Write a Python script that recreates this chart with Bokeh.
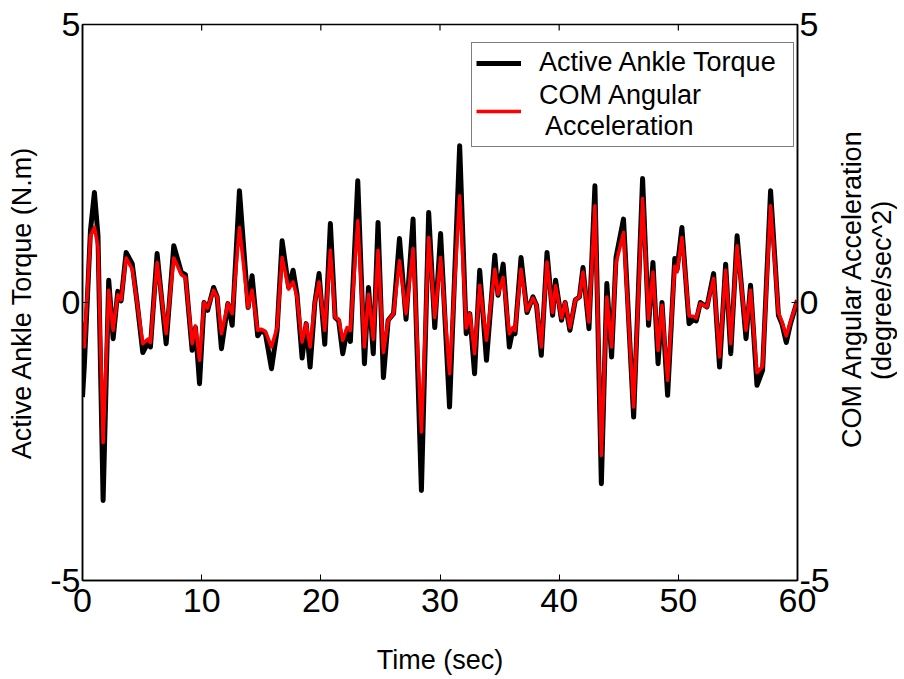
import math
from bokeh.plotting import figure
from bokeh.layouts import row
from bokeh.models import LinearAxis, Range1d, Legend, LegendItem, FixedTicker, Div
from bokeh.embed import file_html
from bokeh.resources import INLINE

time = [0.0, 0.15, 0.67, 1.0, 1.3, 1.73, 2.2, 2.57, 2.96, 3.24, 3.66, 4.17, 4.58, 5.06, 5.5, 5.7,
        6.26, 7.02, 7.66, 8.3, 8.64, 9.2, 9.48, 9.82, 10.2, 10.5, 11.0, 11.3, 11.66, 12.2, 12.56,
        13.17, 13.9, 14.23, 14.7, 15.0, 15.35, 15.86, 16.33, 16.75, 17.3, 17.67, 18.0, 18.43, 18.77,
        19.1, 19.5, 19.85, 20.33, 20.8, 21.2, 21.5, 21.84, 22.2, 22.48, 23.1, 23.66, 24.0, 24.4,
        24.8, 25.25, 25.65, 26.1, 26.6, 27.15, 27.74, 28.44, 29.05, 29.56, 30.05, 30.8, 31.65,
        32.2, 32.5, 32.9, 33.33, 33.9, 34.6, 34.87, 35.3, 35.82, 36.1, 36.3, 36.8, 37.3, 37.8,
        38.1, 38.5, 38.98, 39.45, 39.7, 40.2, 40.5, 40.9, 41.36, 41.7, 42.0, 42.5, 43.0, 43.54,
        44.0, 44.4, 44.77, 45.4, 46.25, 47.0, 47.5, 47.87, 48.3, 48.63, 49.1, 49.7, 49.9, 50.3,
        50.9, 51.3, 51.5, 51.85, 52.4, 52.96, 53.46, 53.97, 54.4, 54.93, 55.68, 56.06, 56.6,
        57.07, 57.74, 58.4, 58.7, 59.06, 59.4, 60.0]

torque = [-1.7, -1.15, 1.3, 1.98, 1.2, -3.56, 0.4, -0.65, 0.2, 0.03, 0.9, 0.7, 0.0, -0.9, -0.72, -0.8,
          0.88, -0.74, 1.02, 0.54, 0.5, -0.86, -0.45, -1.46, 0.0, -0.14, 0.27, 0.1, -0.83, -0.02, -0.41,
          2.01, -0.09, 0.48, -0.6, -0.5, -0.56, -1.19, -0.5, 1.11, 0.27, 0.58, 0.15, -1.0, -0.38,
          -1.16, 0.0, 0.52, -0.75, 1.42, -0.27, -0.33, -0.92, -0.5, -0.7, 2.19, -1.1, 0.27, -0.92,
          1.44, -1.35, -0.32, -0.2, 1.15, -0.3, 1.5, -3.38, 1.62, -0.45, 1.24, -1.88, 2.82,
          -0.56, -0.2, -1.28, 0.58, -1.04, 0.85, 0.13, 0.69, -0.8, -0.5, -0.56, 0.81, -0.18, 0.1,
          -0.05, -0.95, 0.9, -0.23, 0.4, -0.32, 0.0, -0.5, 0.05, 0.1, 0.63, -0.47, 2.1, -3.26,
          0.34, -0.98, 0.81, 1.5, -2.06, 2.23, -0.41, 0.72, -1.1, 0.0, -1.67, 0.79, 0.6, 1.35,
          -0.38, -0.3, -0.33, 0.0, -0.08, 0.52, -1.16, 0.69, -0.92, 1.2, -0.65, 0.31, -1.49,
          -1.22, 2.01, -0.23, -0.39, -0.72, -0.39, 0.04]

com_acc = [-0.35, -0.8, 1.2, 1.35, 1.0, -2.52, 0.22, -0.5, 0.14, 0.05, 0.8, 0.6, 0.0, -0.74, -0.66, -0.72,
           0.72, -0.56, 0.8, 0.5, 0.45, -0.74, -0.42, -1.04, 0.0, -0.1, 0.22, 0.1, -0.56, -0.02, -0.2,
           1.35, -0.09, 0.22, -0.5, -0.48, -0.52, -0.8, -0.45, 0.81, 0.24, 0.37, 0.1, -0.71, -0.38,
           -0.8, 0.0, 0.37, -0.5, 0.94, -0.27, -0.3, -0.68, -0.45, -0.5, 1.47, -0.8, 0.15, -0.66,
           0.94, -0.9, -0.32, -0.2, 0.75, -0.2, 0.97, -2.33, 1.17, -0.27, 0.81, -1.28, 1.92,
           -0.46, -0.2, -0.92, 0.31, -0.68, 0.6, 0.15, 0.45, -0.56, -0.45, -0.5, 0.6, -0.15, 0.08,
           -0.05, -0.8, 0.73, -0.18, 0.3, -0.28, 0.0, -0.45, 0.05, 0.1, 0.55, -0.35, 1.74, -2.75,
           0.1, -0.8, 0.7, 1.26, -1.88, 1.87, -0.3, 0.55, -0.86, -0.05, -1.4, 0.65, 0.55, 1.17,
           -0.24, -0.25, -0.28, -0.02, -0.08, 0.43, -0.98, 0.58, -0.74, 1.02, -0.5, 0.22, -1.26,
           -1.15, 1.74, -0.18, -0.35, -0.6, -0.35, 0.04]

x_ticks = [0, 10, 20, 30, 40, 50, 60]
y_ticks = [-5, 0, 5]
y_tick_labels = {-5: "-5", 0: "0", 5: "5"}
right_label_lines = ["COM Angular Acceleration", "(degree/sec^2)"]

FONT = "Liberation Sans"

p = figure(width=834, height=679, x_range=Range1d(0, 60), y_range=Range1d(-5, 5),
           output_backend="svg", toolbar_location=None,
           min_border_left=82, min_border_right=37, min_border_top=24, min_border_bottom=99,
           background_fill_color="white", border_fill_color="white")
p.outline_line_color = "black"
p.outline_line_width = 1.5
p.xgrid.visible = False
p.ygrid.visible = False
p.extra_y_ranges = {"right": Range1d(-5, 5)}

def style_axis(ax, ticks):
    ax.ticker = FixedTicker(ticks=ticks)
    ax.major_tick_in = 6
    ax.major_tick_out = 0
    ax.minor_tick_line_color = None
    ax.axis_line_color = "black"
    ax.axis_line_width = 1.5
    ax.major_tick_line_color = "black"
    ax.major_label_text_font = FONT
    ax.major_label_text_font_size = "34px"
    ax.major_label_text_color = "black"
    ax.axis_label_text_font = FONT
    ax.axis_label_text_font_size = "27px"
    ax.axis_label_text_font_style = "normal"
    ax.axis_label_text_color = "black"

style_axis(p.xaxis[0], x_ticks)
style_axis(p.yaxis[0], y_ticks)
p.yaxis[0].major_label_overrides = y_tick_labels
p.xaxis[0].axis_label = "Time (sec)"
p.xaxis[0].major_label_standoff = 8
p.xaxis[0].axis_label_standoff = 30
p.yaxis[0].axis_label = "Active Ankle Torque (N.m)"
p.yaxis[0].major_label_standoff = 2
p.yaxis[0].axis_label_standoff = 10

right_axis = LinearAxis(y_range_name="right")
style_axis(right_axis, y_ticks)
right_axis.major_label_overrides = y_tick_labels
right_axis.major_label_standoff = 2
p.add_layout(right_axis, "right")

# inward tick marks along the top edge of the box
p.scatter(x=x_ticks, y=[max(y_ticks)] * len(x_ticks), marker="dash", angle=math.pi / 2,
          size=12, line_color="black", line_width=1.2)

r_black = p.line(time, torque, line_color="black", line_width=5, line_join="round")
r_red = p.line(time, com_acc, line_color="red", line_width=3.5, line_join="round",
               y_range_name="right")

legend = Legend(items=[LegendItem(label="Active Ankle Torque", renderers=[r_black]),
                       LegendItem(label="COM Angular\n Acceleration", renderers=[r_red])],
                location=(389, 433))
legend.label_text_font = FONT
legend.label_text_font_size = "27px"
legend.label_text_line_height = 1.15
legend.label_text_color = "black"
legend.glyph_width = 45
legend.padding = 4
legend.spacing = 2
legend.label_standoff = 18
legend.label_width = 250
legend.border_line_color = "black"
legend.border_line_width = 1
legend.background_fill_alpha = 1
legend.margin = 0
p.add_layout(legend, "center")

# right-hand axis title: two lines reading bottom-to-top, in a strip beside the plot
title_html = (
    '<div style="position:relative; width:70px; height:679px; background:white;">'
    '<div style="position:absolute; left:3px; top:40px; width:60px; height:500px; '
    'writing-mode:vertical-rl; transform:rotate(180deg); text-align:center; '
    "white-space:nowrap; font-family:'Liberation Sans'; font-size:27px; line-height:30px; "
    'color:black;">' + "<br>".join(right_label_lines) + '</div></div>'
)
right_title = Div(text=title_html, width=70, height=679, margin=0)

layout = row(p, right_title, spacing=0)

open("out.html", "w").write(file_html(layout, INLINE))
